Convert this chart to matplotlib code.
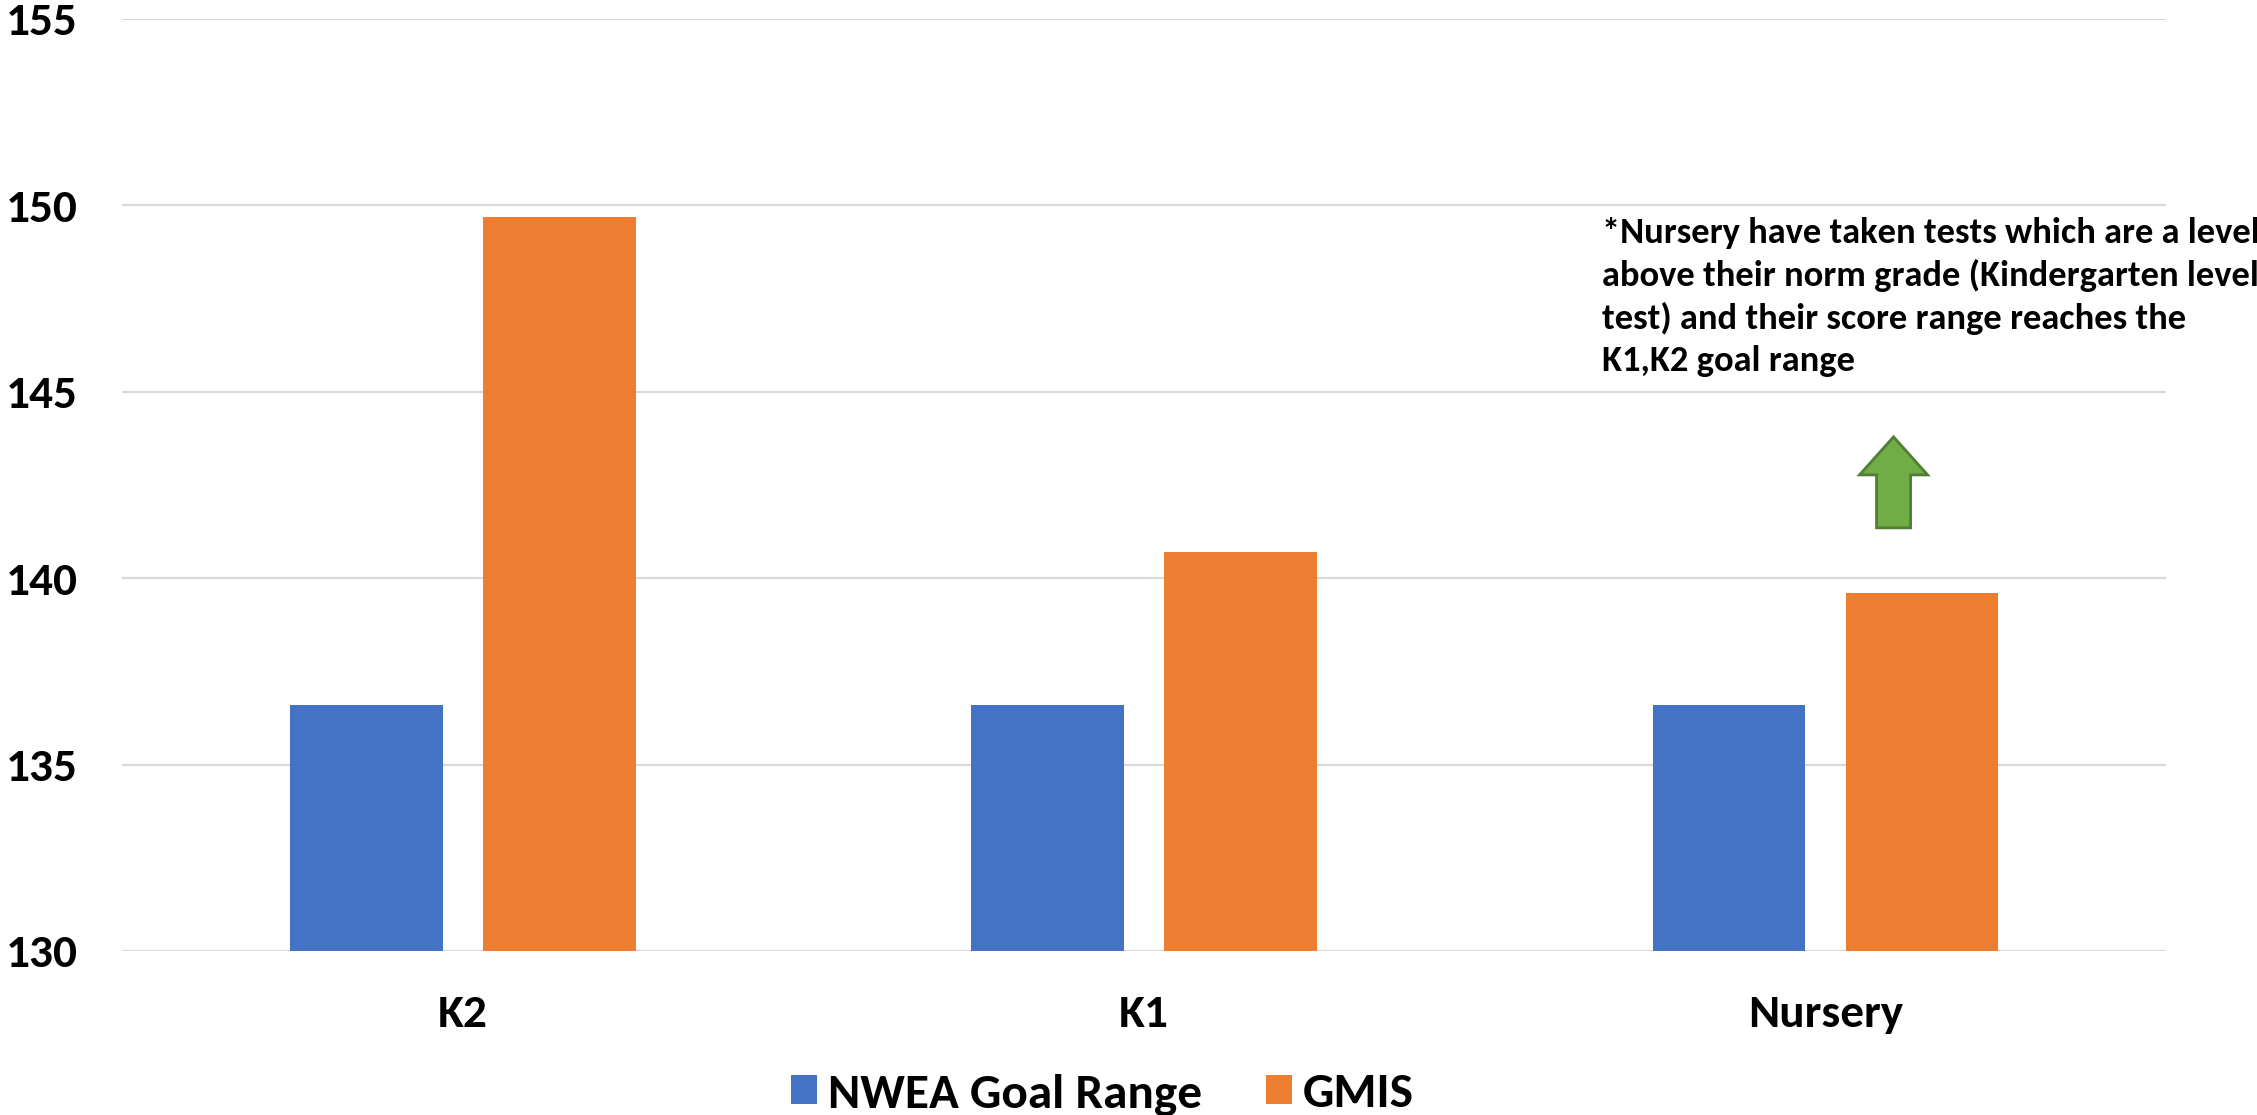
import matplotlib
matplotlib.use("Agg")
import matplotlib.pyplot as plt
import numpy as np
from matplotlib.patches import FancyArrow, Patch
from matplotlib import font_manager

categories = ["K2", "K1", "Nursery"]
nwea_goal = [136.6, 136.6, 136.6]
gmis = [149.7, 140.7, 139.6]
series_names = ["NWEA Goal Range", "GMIS"]
y_ticks = [130, 135, 140, 145, 150, 155]
note = ("*Nursery have taken tests which are a level\n"
        "above their norm grade (Kindergarten level\n"
        "test) and their score range reaches the\n"
        "K1,K2 goal range")

BLUE = "#4472C4"
ORANGE = "#ED7D31"
GREEN = "#70AD47"
GREEN_EDGE = "#507E32"

names = {f.name for f in font_manager.fontManager.ttflist}
fam = 'Carlito' if 'Carlito' in names else 'Open Sans Condensed'
plt.rcParams['font.family'] = [fam, 'DejaVu Sans']
plt.rcParams['font.weight'] = 'bold'

FS = 34

fig = plt.figure(figsize=(22.57, 11.15), dpi=100)
ax = fig.add_axes([0.0542, 0.1471, 0.9055, 0.8359])

x = np.arange(len(categories))
bw = 0.224
off = 0.1415
ax.bar(x - off, np.array(nwea_goal) - 130, bw, bottom=130, color=BLUE, zorder=3)
ax.bar(x + off, np.array(gmis) - 130, bw, bottom=130, color=ORANGE, zorder=3)

ax.set_xlim(-0.5, len(categories) - 0.5)
ax.set_ylim(130, 155)
ax.set_yticks(y_ticks)
ax.set_yticklabels([str(t) for t in y_ticks], fontsize=FS, fontweight='bold')
ax.set_xticks(x)
ax.set_xticklabels(categories, fontsize=FS, fontweight='bold')
ax.tick_params(axis='y', length=0, pad=32)
ax.tick_params(axis='x', length=0, pad=31)
ax.grid(axis='y', color='#D9D9D9', linewidth=1.6, zorder=0)
ax.set_axisbelow(True)
for s in ax.spines.values():
    s.set_visible(False)

ax.text(1.672, 149.7, note, fontsize=26.3, fontweight='bold', va='top', ha='left',
        linespacing=1.38, clip_on=False)

arrow = FancyArrow(2.1, 141.35, 0, 2.44, width=0.05, head_width=0.1,
                   head_length=1.02, length_includes_head=True,
                   facecolor=GREEN, edgecolor=GREEN_EDGE, linewidth=2, zorder=4)
ax.add_patch(arrow)

handles = [Patch(facecolor=BLUE), Patch(facecolor=ORANGE)]
fig.legend(handles, series_names, loc='center', bbox_to_anchor=(0.4885, 0.0185),
           ncol=2, frameon=False, prop={'size': 35.5, 'weight': 'bold'},
           handlelength=0.53, handleheight=0.53, handletextpad=0.22,
           columnspacing=1.3, borderpad=0)

fig.savefig("out.png", dpi=100, facecolor='white')
